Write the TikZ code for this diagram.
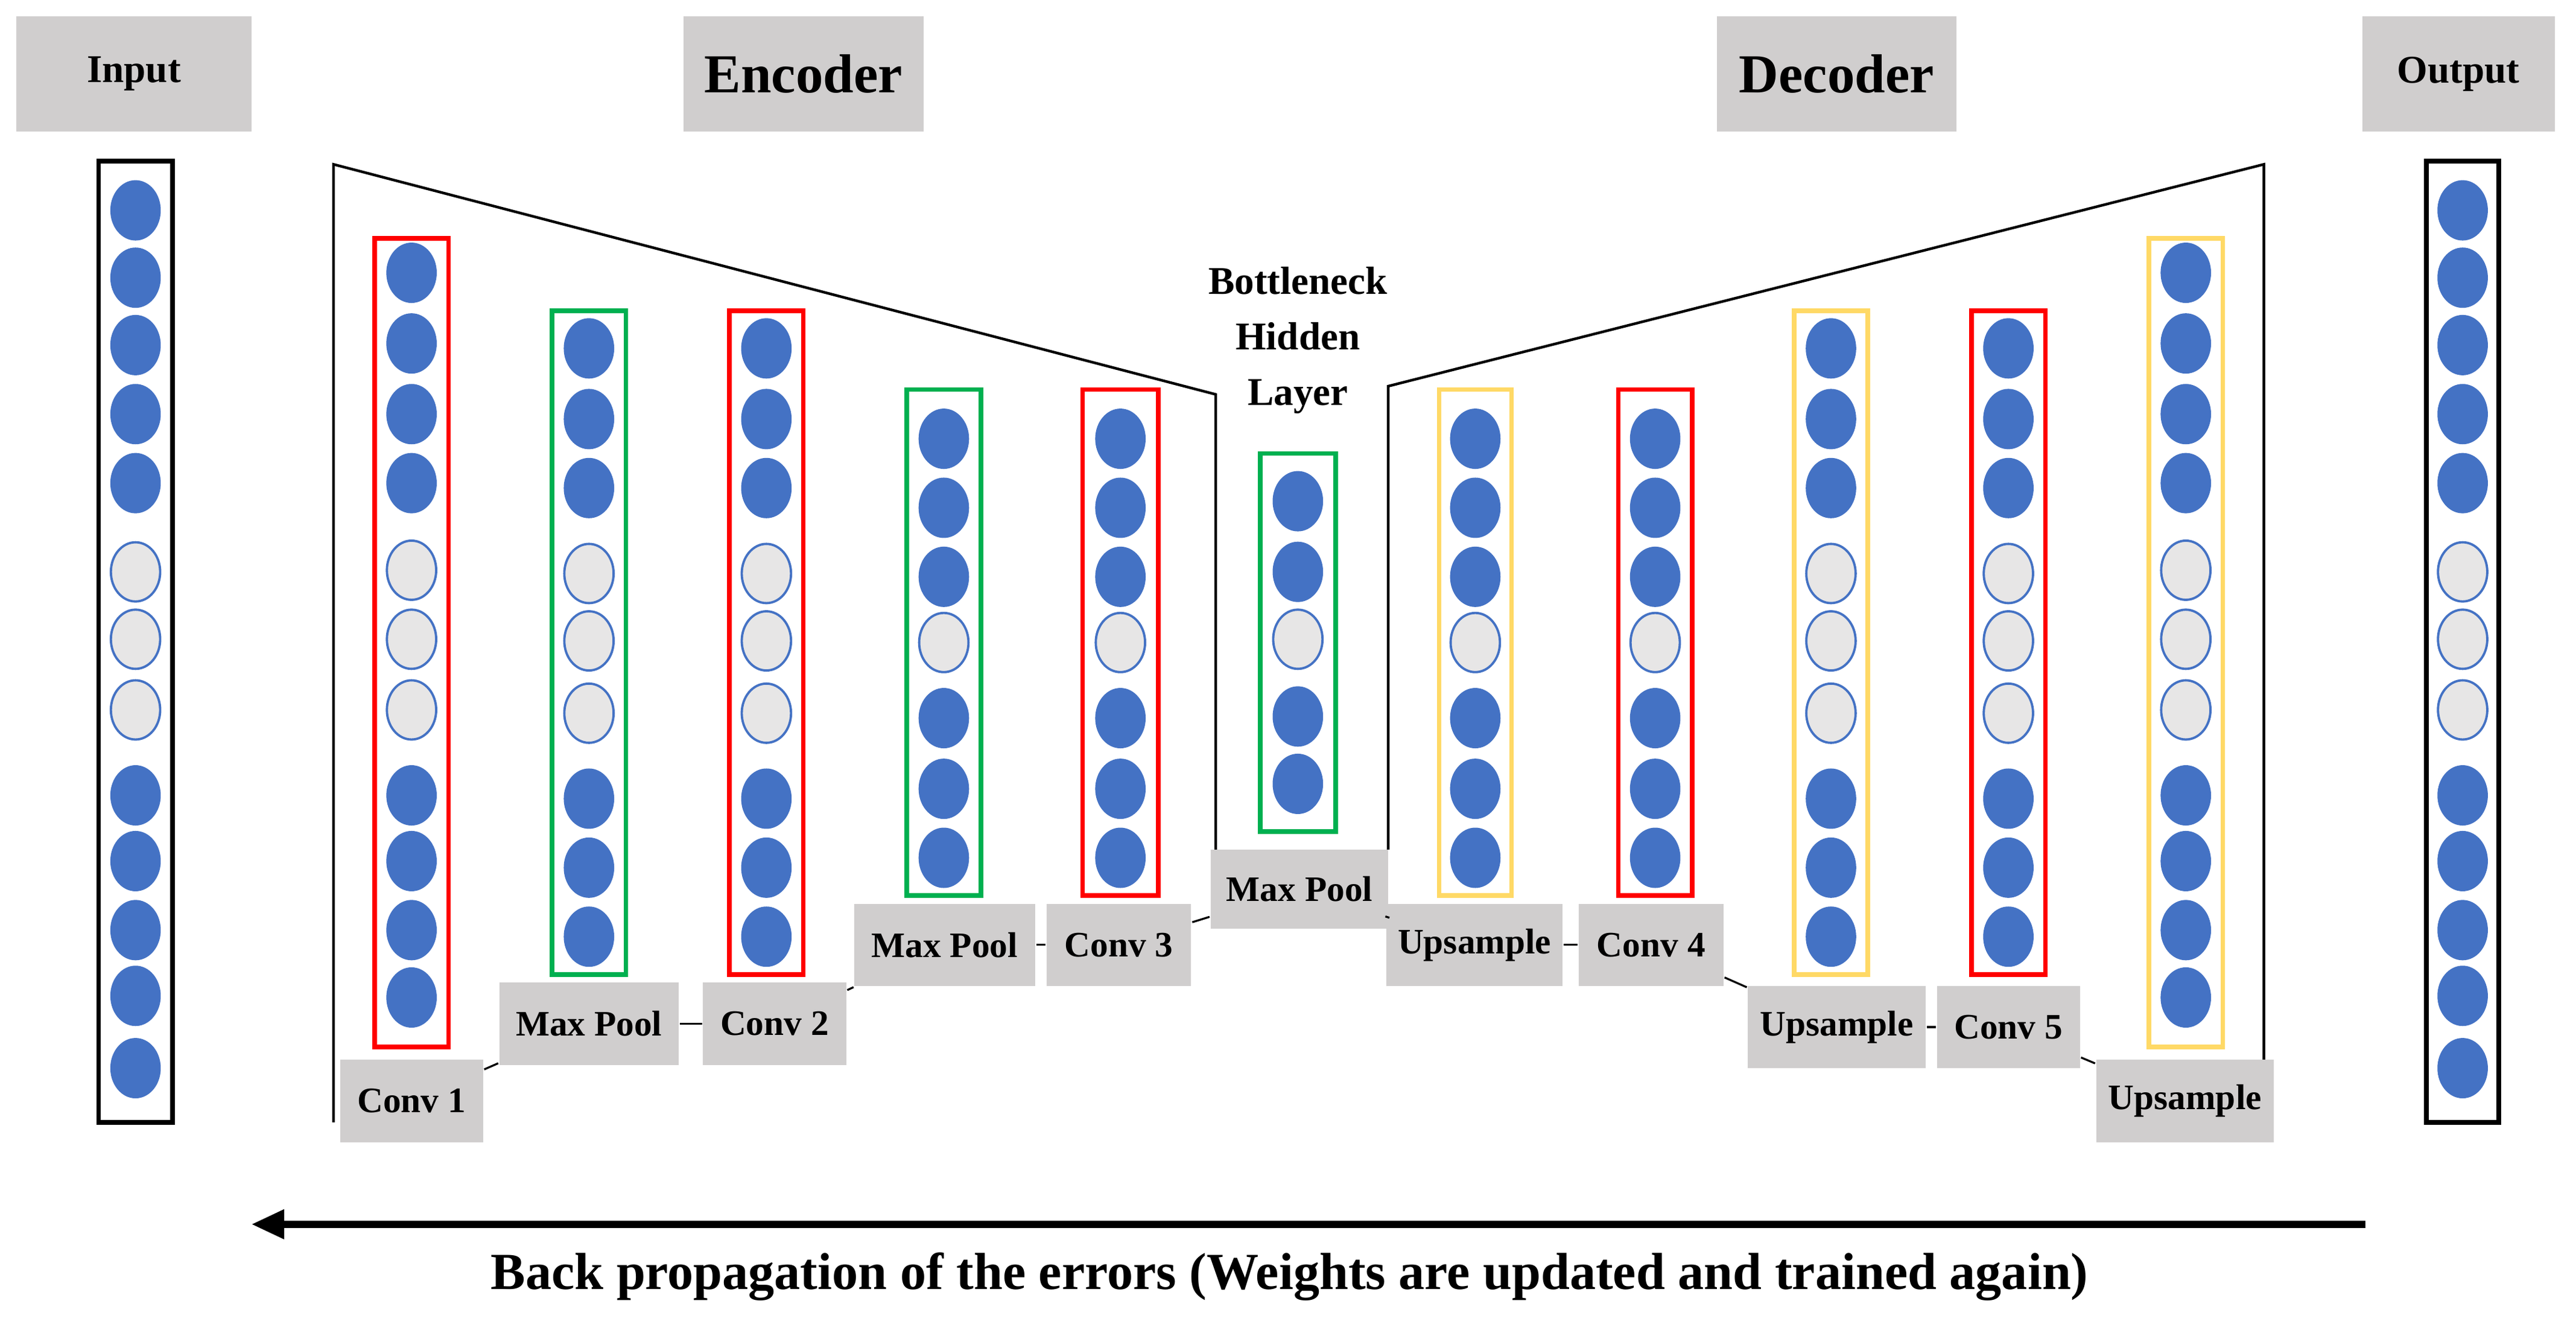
\documentclass[tikz,border=0pt]{standalone}
\usepackage{fontspec}
\setmainfont{Liberation Serif}
\usetikzlibrary{shapes.geometric,arrows.meta}
\definecolor{nblue}{HTML}{4472C4}
\definecolor{nlight}{HTML}{E7E6E6}
\definecolor{gbox}{HTML}{D0CECE}
\definecolor{cred}{HTML}{FF0000}
\definecolor{cgreen}{HTML}{00B050}
\definecolor{cyel}{HTML}{FFD966}
\tikzset{
  cb/.style={ellipse,fill=nblue,draw=nblue,line width=0.2pt,minimum width=0.3cm,minimum height=0.36cm,inner sep=0pt},
  cl/.style={ellipse,fill=nlight,draw=nblue,line width=0.4pt,minimum width=0.3cm,minimum height=0.36cm,inner sep=0pt},
  lab/.style={fill=gbox,font=\bfseries\fontsize{6.2}{7}\selectfont,inner sep=0pt,minimum height=0.5cm},
  head/.style={fill=gbox,font=\bfseries\fontsize{9.5}{11}\selectfont,inner sep=0pt,minimum height=0.7cm,minimum width=1.46cm},
  headS/.style={fill=gbox,font=\bfseries\fontsize{6.8}{8}\selectfont,inner sep=0pt,minimum height=0.7cm},
  box/.style={line width=0.028cm},
  outl/.style={line width=0.016cm},
}
\def\patIn{128/b,169/b,210/b,252/b,294/b,348/l,389/l,432/l,484/b,524/b,566/b,606/b,650/b}
\def\patA{166/b,209/b,252/b,294/b,347/l,389/l,432/l,484/b,524/b,566/b,607/b}
\def\patB{212/b,255/b,297/b,349/l,390/l,434/l,486/b,528/b,570/b}
\def\patC{267/b,309/b,351/b,391/l,437/b,480/b,522/b}
\def\patD{305/b,348/b,389/l,436/b,477/b}
\begin{document}
\begin{tikzpicture}[x=0.01cm,y=-0.01cm]
\useasboundingbox (0,0) rectangle (1568,809);
% headers
\node[headS,minimum width=1.43cm] (hin) at (81.5,45) {Input};
\node[head] (henc) at (489,45) {Encoder};
\node[head] (hdec) at (1118,45) {Decoder};
\node[headS,minimum width=1.17cm] (hout) at (1496.5,45) {Output};
% outlines
\draw[outl] (203,683) -- (203,100) -- (740,240) -- (740,517);
\draw[outl] (1378,683) -- (1378,100) -- (845,235) -- (845,517);
% input/output columns
\draw[box] (60,98) rectangle (105,683);
\draw[box] (1477,98) rectangle (1521,683);
\foreach \y/\t in \patIn {\node[c\t] (in\y) at (82.5,\y) {}; \node[c\t] (out\y) at (1499,\y) {};}
% columns
\draw[box,cred] (228,145) rectangle (273,637);
\foreach \y/\t in \patA {\node[c\t] (ca\y) at (250.5,\y) {};}
\draw[box,cgreen] (336,189) rectangle (381,593);
\foreach \y/\t in \patB {\node[c\t] (cb\y) at (358.5,\y) {};}
\draw[box,cred] (444,189) rectangle (489,593);
\foreach \y/\t in \patB {\node[c\t] (cc\y) at (466.5,\y) {};}
\draw[box,cgreen] (552,237) rectangle (597,545);
\foreach \y/\t in \patC {\node[c\t] (cd\y) at (574.5,\y) {};}
\draw[box,cred] (659,237) rectangle (705,545);
\foreach \y/\t in \patC {\node[c\t] (ce\y) at (682,\y) {};}
\draw[box,cgreen] (767,276) rectangle (813,506);
\foreach \y/\t in \patD {\node[c\t] (cf\y) at (790,\y) {};}
\draw[box,cyel] (876,237) rectangle (920,545);
\foreach \y/\t in \patC {\node[c\t] (cg\y) at (898,\y) {};}
\draw[box,cred] (985,237) rectangle (1030,545);
\foreach \y/\t in \patC {\node[c\t] (ch\y) at (1007.5,\y) {};}
\draw[box,cyel] (1092,189) rectangle (1137,593);
\foreach \y/\t in \patB {\node[c\t] (ci\y) at (1114.5,\y) {};}
\draw[box,cred] (1200,189) rectangle (1245,593);
\foreach \y/\t in \patB {\node[c\t] (cj\y) at (1222.5,\y) {};}
\draw[box,cyel] (1308,145) rectangle (1353,637);
\foreach \y/\t in \patA {\node[c\t] (ck\y) at (1330.5,\y) {};}
% bottleneck text
\node[font=\bfseries\fontsize{6.8}{9.6}\selectfont,align=center,inner sep=0pt] (bn) at (790,207) {Bottleneck\\Hidden\\Layer};
% labels
\node[lab,minimum width=0.87cm] (l1) at (250.5,670) {Conv 1};
\node[lab,minimum width=1.09cm] (l2) at (358.5,623) {Max Pool};
\node[lab,minimum width=0.87cm] (l3) at (471.5,623) {Conv 2};
\node[lab,minimum width=1.10cm] (l4) at (575,575) {Max Pool};
\node[lab,minimum width=0.88cm] (l5) at (681,575) {Conv 3};
\node[lab,minimum width=1.08cm,minimum height=0.48cm] (l6) at (791,541) {Max Pool};
\node[lab,minimum width=1.07cm] (l7) at (897.5,575) {Upsample};
\node[lab,minimum width=0.88cm] (l8) at (1005,575) {Conv 4};
\node[lab,minimum width=1.08cm] (l9) at (1118,625) {Upsample};
\node[lab,minimum width=0.87cm] (l10) at (1222.5,625) {Conv 5};
\node[lab,minimum width=1.08cm] (l11) at (1330,670) {Upsample};
\foreach \a/\b in {l1/l2,l2/l3,l3/l4,l4/l5,l5/l6,l6/l7,l7/l8,l8/l9,l9/l10,l10/l11} {\draw[line width=0.012cm] (\a) -- (\b);}
% arrow
\coordinate (as) at (1440,745);
\coordinate (ae) at (153,745);
\draw[line width=0.045cm,-{Triangle[length=0.2cm,width=0.17cm]}] (as) -- (ae);
\node[font=\bfseries\fontsize{9}{11}\selectfont,inner sep=0pt] (bp) at (785,777) {Back propagation of the errors (Weights are updated and trained again)};
\end{tikzpicture}
\end{document}
